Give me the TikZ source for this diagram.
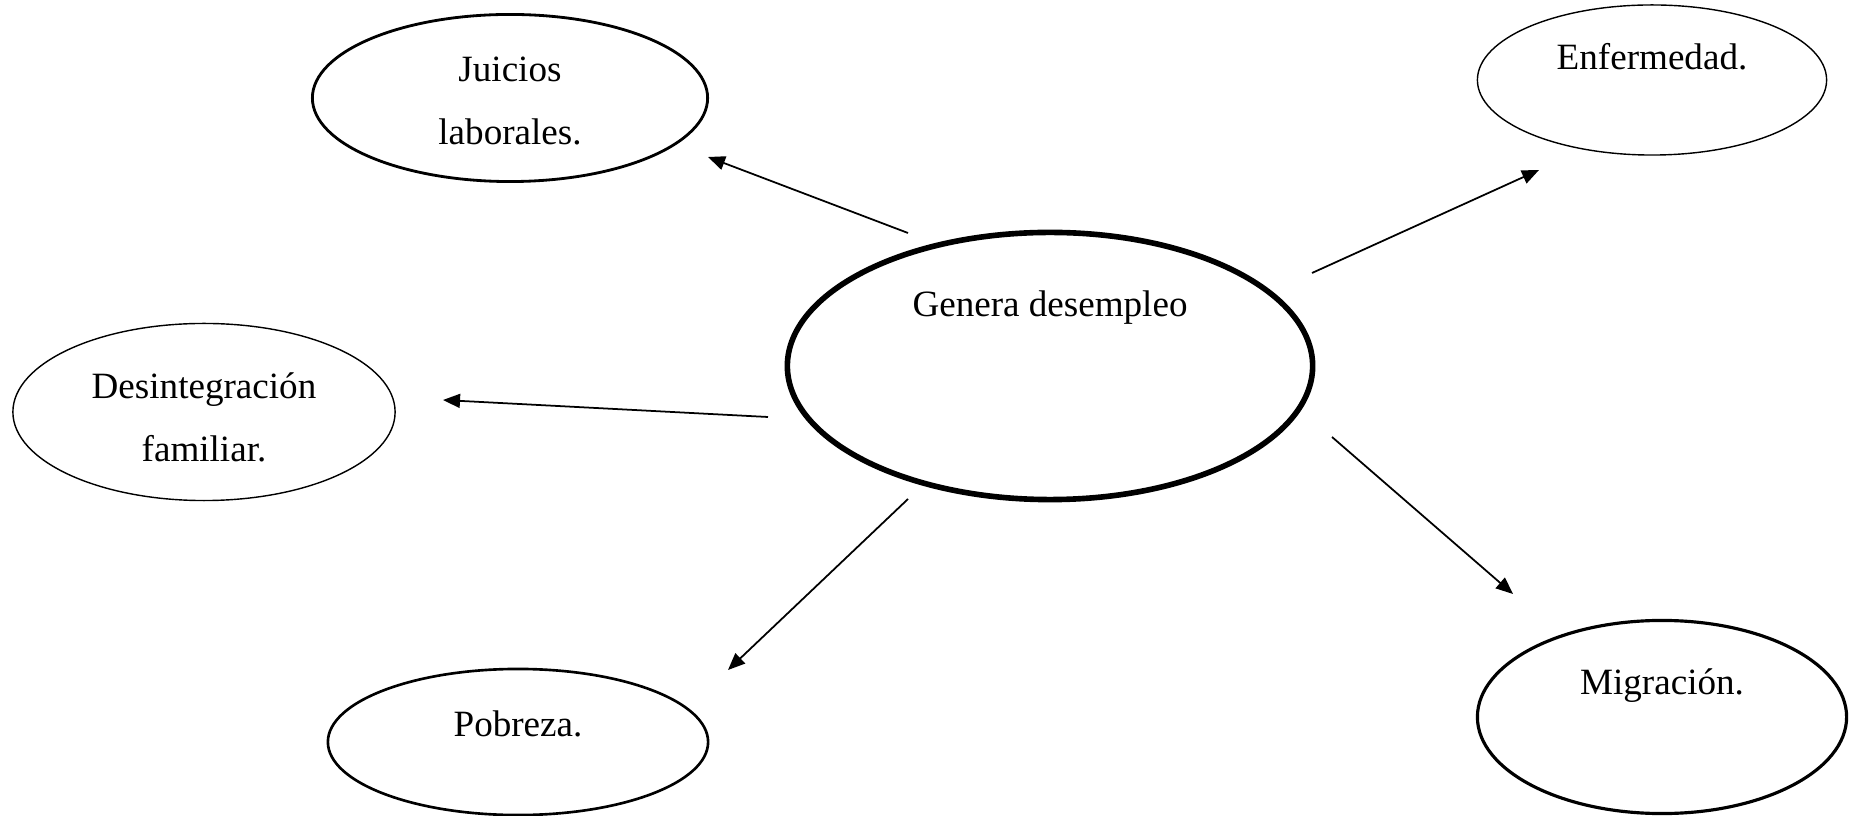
\documentclass[tikz,border=0pt]{standalone}
\usepackage{fontspec}
\setmainfont{Liberation Serif}
\usetikzlibrary{shapes.geometric,arrows.meta}

\begin{document}
\begin{tikzpicture}[x=0.01cm,y=-0.01cm,
    elipse/.style={ellipse,draw,inner sep=0pt},
    texto/.style={font=\fontsize{10.55}{17.9}\selectfont,align=center},
    flecha/.style={line width=0.5pt,-{Triangle[length=0.17cm,width=0.14cm]}}]
  \useasboundingbox (0,0) rectangle (1858,816);

  % elipses
  \node[elipse,line width=1.6pt,minimum width=5.25cm,minimum height=2.67cm,
    label={[texto,yshift=0.58cm]center:Genera desempleo}] (gen) at (1050,366) {};
  \node[elipse,line width=0.8pt,minimum width=3.95cm,minimum height=1.67cm,
    label={[texto,yshift=-0.03cm]center:Juicios\\laborales.}] (jui) at (510,98) {};
  \node[elipse,line width=0.4pt,minimum width=3.49cm,minimum height=1.50cm,
    label={[texto,yshift=0.23cm]center:Enfermedad.}] (enf) at (1652,80) {};
  \node[elipse,line width=0.4pt,minimum width=3.82cm,minimum height=1.77cm,
    label={[texto,yshift=-0.05cm]center:Desintegración\\familiar.}] (des) at (204,412) {};
  \node[elipse,line width=0.75pt,minimum width=3.80cm,minimum height=1.46cm,
    label={[texto,yshift=0.18cm]center:Pobreza.}] (pob) at (518,742) {};
  \node[elipse,line width=0.9pt,minimum width=3.69cm,minimum height=1.93cm,
    label={[texto,yshift=0.31cm]center:Migración.}] (mig) at (1662,717) {};

  % extremos de las flechas
  \coordinate (jui-a) at (908,233);
  \coordinate (jui-b) at (708,157);
  \coordinate (enf-a) at (1312,273);
  \coordinate (enf-b) at (1539,170);
  \coordinate (des-a) at (768,417);
  \coordinate (des-b) at (443,400);
  \coordinate (pob-a) at (908,499);
  \coordinate (pob-b) at (728,670);
  \coordinate (mig-a) at (1332,437);
  \coordinate (mig-b) at (1513,594);

  % flechas
  \foreach \destino in {jui,enf,des,pob,mig}
    \draw[flecha] (\destino-a) -- (\destino-b);
\end{tikzpicture}
\end{document}
